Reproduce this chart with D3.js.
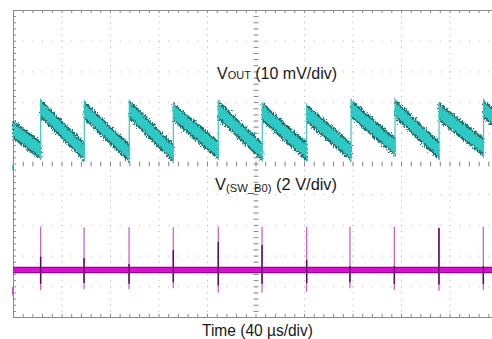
<!DOCTYPE html>
<html>
<head>
<meta charset="utf-8">
<script src="https://cdn.jsdelivr.net/npm/d3@7"></script>
<style>
  html, body { margin: 0; padding: 0; background: #fff; }
  svg { display: block; font-family: "Liberation Sans", Arial, sans-serif; }
</style>
</head>
<body>
<div id="chart"></div>
<script>
// Time base: 40 us/div, 10 divisions
var timeDomain = [0, 400];

// VOUT ripple (10 mV/div), band centre in mV relative to screen centre
var voutJumps  = [22.8, 58.8, 95.9, 132.2, 169.3, 205.6, 242.2, 278.8, 315.1, 351.4, 388.1];
var voutPeak   = [17.9, 17.4, 17.6, 16.8, 17.4, 16.8, 16.3, 17.9, 17.9, 16.8, 17.9];
var voutValley = [4.3, 3.8, 3.3, 3.3, 4.3, 3.8, 3.8, 3.8, 5.3, 4.3, 5.3];
var voutStart  = 11.0;   // at t = 0
var voutEnd    = 13.4;   // at t = 400
var voutNoise  = 6.5;    // band thickness, mV

// Switch node (2 V/div), volts relative to its own ground
var swTimes    = [22.8, 58.6, 95.7, 132.2, 169.3, 205.4, 242.2, 277.9, 314.5, 351.3, 387.9];
var swUp       = [2.82, 2.78, 2.78, 2.78, 2.82, 2.82, 2.82, 2.82, 2.82, 2.72, 2.82];
var swUpDark   = [0.87, 0.78, 0.39, 1.30, 1.84, 1.63, 0.65, 0.26, 0.26, 2.74, 0.26];
var swDown     = [-1.30, -1.26, -1.26, -1.19, -1.48, -1.48, -1.41, -1.19, -1.30, -1.35, -1.30];
var swDownDark = [-0.90, -0.85, -0.90, -0.80, -1.00, -0.90, -0.85, -0.80, -0.90, -0.95, -0.90];
var swBase = 0;

// Labels
var voutLabel = ["V", "OUT", " (10 mV/div)"];
var swLabel   = ["V", "(SW_B0)", " (2 V/div)"];
var timeLabel = "Time (40 \u00b5s/div)";

var W = 492, H = 339;
var plot = {left: 13, top: 10, right: 498, bottom: 317};

var svg = d3.select("#chart").append("svg")
    .attr("width", W)
    .attr("height", H);

// Scales
var x = d3.scaleLinear().domain(timeDomain).range([plot.left, plot.right]);
var div = d3.scaleLinear().domain([-5, 5]).range([plot.bottom, plot.top]);
var yV = d3.scaleLinear().domain([-50, 50]).range([plot.bottom, plot.top]);
var swOffsetDiv = -3.47;
var yS = d3.scaleLinear()
    .domain([(-5 - swOffsetDiv) * 2, (5 - swOffsetDiv) * 2])
    .range([plot.bottom, plot.top]);

// Noise filters
var defs = svg.append("defs");
function noiseFilter(id, seed, scale, freq) {
  var f = defs.append("filter").attr("id", id)
      .attr("filterUnits", "userSpaceOnUse")
      .attr("x", 0).attr("y", 0).attr("width", W).attr("height", H);
  f.append("feTurbulence").attr("type", "fractalNoise")
      .attr("baseFrequency", freq).attr("numOctaves", 2).attr("seed", seed).attr("result", "n");
  f.append("feDisplacementMap").attr("in", "SourceGraphic").attr("in2", "n")
      .attr("scale", scale).attr("xChannelSelector", "R").attr("yChannelSelector", "G");
}
noiseFilter("noiseDark", 3, 7, "0.9 0.5");
noiseFilter("noiseLight", 7, 4, "0.9 0.5");

// Grid
var grid = svg.append("g");
var xDivs = d3.range(timeDomain[0], timeDomain[1] + 1, 40);
var yDivs = d3.range(-5, 6, 1);

grid.selectAll(".vg").data(xDivs.slice(1, -1)).enter().append("line")
    .attr("x1", d => x(d) + 0.5).attr("x2", d => x(d) + 0.5)
    .attr("y1", plot.top).attr("y2", plot.bottom)
    .attr("stroke", "#b4b4b4").attr("stroke-dasharray", "1,5.14");
grid.selectAll(".hg").data(yDivs.slice(1, -1)).enter().append("line")
    .attr("y1", d => div(d) + 0.5).attr("y2", d => div(d) + 0.5)
    .attr("x1", plot.left).attr("x2", plot.right)
    .attr("stroke", "#b4b4b4").attr("stroke-dasharray", "1,8.7");

// Border
grid.append("rect")
    .attr("x", plot.left + 0.5).attr("y", plot.top + 0.5)
    .attr("width", plot.right - plot.left).attr("height", plot.bottom - plot.top)
    .attr("fill", "none").attr("stroke", "#8a8a8a");

// Minor ticks
var xMinor = d3.range(timeDomain[0], timeDomain[1] + 0.1, 8);
var yMinor = d3.range(-5, 5.01, 0.2);
function ticksX(y1, y2) {
  grid.append("g").selectAll("line").data(xMinor).enter().append("line")
      .attr("x1", d => x(d) + 0.5).attr("x2", d => x(d) + 0.5)
      .attr("y1", y1).attr("y2", y2)
      .attr("stroke", "#8a8a8a");
}
function ticksY(x1, x2) {
  grid.append("g").selectAll("line").data(yMinor).enter().append("line")
      .attr("y1", d => div(d) + 0.5).attr("y2", d => div(d) + 0.5)
      .attr("x1", x1).attr("x2", x2)
      .attr("stroke", "#8a8a8a");
}
ticksX(plot.top, plot.top + 3);
ticksX(plot.bottom, plot.bottom - 3);
ticksX(div(0) - 2, div(0) + 3);
ticksY(plot.left, plot.left + 3);
ticksY(x(200) - 2, x(200) + 3);

// VOUT band, one segment per switching cycle
var segs = [];
var t0 = timeDomain[0], c0 = voutStart;
voutJumps.forEach(function(t, i) {
  segs.push({t0: t0, c0: c0, t1: t, c1: voutValley[i]});
  t0 = t; c0 = voutPeak[i];
});
segs.push({t0: t0, c0: c0, t1: timeDomain[1], c1: voutEnd});

function bandPath(s, half) {
  return "M" + x(s.t0) + "," + yV(s.c0 + half) +
         "L" + x(s.t1) + "," + yV(s.c1 + half) +
         "L" + x(s.t1) + "," + yV(s.c1 - half) +
         "L" + x(s.t0) + "," + yV(s.c0 - half) + "Z";
}

var vout = svg.append("g");
vout.append("g").attr("filter", "url(#noiseDark)")
  .selectAll("path").data(segs).enter().append("path")
    .attr("d", d => bandPath(d, voutNoise / 2 - 0.2))
    .attr("fill", "#1a6f6d");
vout.append("g").attr("filter", "url(#noiseLight)")
  .selectAll("path").data(segs).enter().append("path")
    .attr("d", d => bandPath(d, voutNoise / 2 - 1.1))
    .attr("fill", "#2fc9c5");

// rising edges
vout.selectAll(".rise").data(voutJumps).enter().append("line")
    .attr("x1", d => x(d)).attr("x2", d => x(d))
    .attr("y1", (d, i) => yV(voutValley[i] - voutNoise / 2))
    .attr("y2", (d, i) => yV(voutPeak[i] + voutNoise / 2))
    .attr("stroke", "#3cc8c4").attr("stroke-width", 1.2);

// Switch node trace
var sw = svg.append("g");
sw.append("line")
    .attr("x1", x(timeDomain[0])).attr("x2", x(timeDomain[1]))
    .attr("y1", yS(swBase)).attr("y2", yS(swBase))
    .attr("stroke", "#9a0092").attr("stroke-width", 6.5);
sw.append("line")
    .attr("x1", x(timeDomain[0])).attr("x2", x(timeDomain[1]))
    .attr("y1", yS(swBase)).attr("y2", yS(swBase))
    .attr("stroke", "#da10d0").attr("stroke-width", 4);

var spikes = sw.selectAll(".spike").data(swTimes).enter().append("g");
spikes.append("line")
    .attr("x1", d => x(d)).attr("x2", d => x(d))
    .attr("y1", (d, i) => yS(swUp[i])).attr("y2", (d, i) => yS(swDown[i]))
    .attr("stroke", "#c45ac4").attr("stroke-width", 1.2);
spikes.append("line")
    .attr("x1", d => x(d)).attr("x2", d => x(d))
    .attr("y1", (d, i) => yS(swUpDark[i])).attr("y2", (d, i) => yS(swDownDark[i]))
    .attr("stroke", "#5e0a5c").attr("stroke-width", 1.5);

// channel markers at left edge
svg.append("line").attr("x1", 12.5).attr("x2", 12.5)
    .attr("y1", yV(-0.5)).attr("y2", yV(-2.2)).attr("stroke", "#3cc8c4");
svg.append("line").attr("x1", 12.5).attr("x2", 12.5)
    .attr("y1", yS(-1.1)).attr("y2", yS(-1.65)).attr("stroke", "#c45ac4");

// Labels
function fitText(t, width) {
  t.attr("textLength", width).attr("lengthAdjust", "spacingAndGlyphs");
}
var l1 = svg.append("text").attr("x", 217).attr("y", 79)
    .attr("font-size", 16).attr("fill", "#1a1a1a");
l1.append("tspan").text(voutLabel[0]);
l1.append("tspan").attr("font-size", 11).text(voutLabel[1]);
l1.append("tspan").text(voutLabel[2]);
fitText(l1, 120);

var l2 = svg.append("text").attr("x", 215).attr("y", 190)
    .attr("font-size", 16).attr("fill", "#1a1a1a");
l2.append("tspan").text(swLabel[0]);
l2.append("tspan").attr("font-size", 11).attr("dy", 2).text(swLabel[1]);
l2.append("tspan").attr("dy", -2).text(swLabel[2]);
fitText(l2, 122);

var l3 = svg.append("text").attr("x", 202).attr("y", 336)
    .attr("font-size", 17).attr("fill", "#1a1a1a")
    .text(timeLabel);
fitText(l3, 111);
</script>
</body>
</html>
